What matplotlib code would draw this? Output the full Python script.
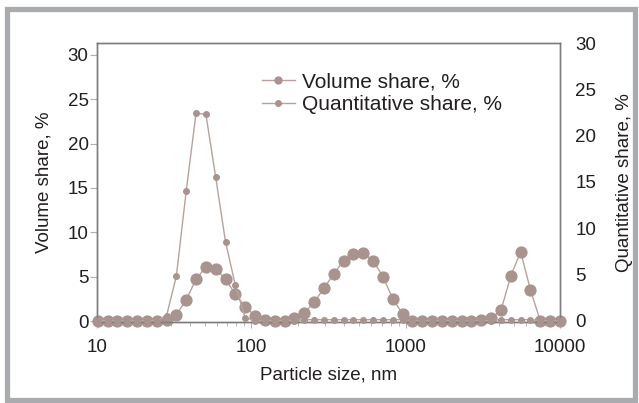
import matplotlib
matplotlib.use("Agg")
import matplotlib.pyplot as plt
from matplotlib.lines import Line2D
from matplotlib.patches import Rectangle

plt.rcParams['font.family'] = ['Liberation Sans', 'DejaVu Sans']

# particle size bins, nm
size_nm = [10.1, 11.7, 13.54, 15.69, 18.17, 21.04, 24.36, 28.21, 32.67, 37.84,
           43.82, 50.75, 58.77, 68.06, 78.82, 91.28, 105.7, 122.4, 141.8, 164.2,
           190.1, 220.2, 255.0, 295.3, 342.0, 396.1, 458.7, 531.2, 615.1, 712.4,
           825.0, 955.4, 1106, 1281, 1484, 1718, 1990, 2305, 2669, 3091,
           3580, 4145, 4801, 5560, 6439, 7456, 8635, 10000]

volume = [0, 0, 0, 0, 0, 0, 0, 0.1, 0.7, 2.4,
          4.7, 6.1, 5.9, 4.7, 3.0, 1.6, 0.6, 0.1, 0, 0,
          0.35, 0.9, 2.1, 3.7, 5.3, 6.8, 7.6, 7.7, 6.8, 5.0,
          2.5, 0.8, 0, 0, 0, 0, 0, 0, 0, 0.1,
          0.3, 1.2, 5.1, 7.8, 3.5, 0, 0, 0]

quantity = [0, 0, 0, 0, 0, 0, 0, 0.5, 4.8, 14.0,
            22.4, 22.3, 15.5, 8.5, 3.8, 0.3, 0, 0, 0, 0,
            0, 0.1, 0.1, 0.1, 0.1, 0.1, 0.1, 0.1, 0.1, 0.1,
            0.1, 0.1, 0, 0, 0, 0, 0, 0, 0, 0,
            0, 0.1, 0.1, 0.1, 0.1, 0, 0, 0]

marker_col = '#a8938e'
line_col = '#b7a29d'
spine_col = '#7d7d7d'
text_col = '#231f20'

W, H = 639, 403
fig = plt.figure(figsize=(W / 100, H / 100), dpi=100)
ax = fig.add_axes([97 / W, 1 - 322 / H, (560 - 97) / W, (322 - 43) / H])

ax.plot(size_nm, volume, '-o', color=line_col, lw=1.0, markersize=7.8,
        markerfacecolor=marker_col, markeredgecolor=marker_col, clip_on=False, zorder=3)
ax.set_xscale('log')
ax.set_xlim(10, 10000)
ax.set_ylim(-0.11, 31.35)
ax.set_yticks([0, 5, 10, 15, 20, 25, 30])
ax.set_xticks([10, 100, 1000, 10000])
ax.set_xticklabels(['10', '100', '1000', '10000'])
ax.yaxis.set_ticks_position('both')
ax.tick_params(axis='y', which='major', direction='out', length=5, width=0.8,
               color='#b0b0b0', labelsize=13.5, labelcolor=text_col, pad=1)
ax.tick_params(axis='x', which='major', direction='out', length=4, width=0.8,
               color='#b0b0b0', labelsize=13.5, labelcolor=text_col, pad=8)
ax.tick_params(axis='x', which='minor', direction='out', length=3, width=0.6,
               color='#b0b0b0')
for s in ax.spines.values():
    s.set_color(spine_col)
    s.set_linewidth(1.0)
ax.set_xlabel('Particle size, nm', fontsize=13.5, color=text_col, labelpad=8)
ax.set_ylabel('Volume share, %', fontsize=13.5, color=text_col, labelpad=11)

ax2 = ax.twinx()
ax2.plot(size_nm, quantity, '-o', color=line_col, lw=1.0, markersize=4.0,
         markerfacecolor=marker_col, markeredgecolor=marker_col, clip_on=False, zorder=3)
ax2.set_ylim(-0.15, 29.9)
ax2.set_yticks([0, 5, 10, 15, 20, 25, 30])
ax2.tick_params(axis='y', length=0, labelsize=13.5, labelcolor=text_col, pad=11)
for s in ax2.spines.values():
    s.set_color(spine_col)
    s.set_linewidth(1.0)
ax2.set_ylabel('Quantitative share, %', fontsize=13.5, color=text_col, labelpad=14)

handles = [
    Line2D([], [], color=line_col, lw=1.0, marker='o', markersize=5,
           markerfacecolor=marker_col, markeredgecolor=marker_col),
    Line2D([], [], color=line_col, lw=1.0, marker='o', markersize=4,
           markerfacecolor=marker_col, markeredgecolor=marker_col),
]
ax2.legend(handles, ['Volume share, %', 'Quantitative share, %'],
           loc='upper left', bbox_to_anchor=(254 / W, 1 - 64 / H),
           bbox_transform=fig.transFigure, frameon=False, fontsize=15,
           handlelength=1.55, handletextpad=0.35, labelspacing=0.18,
           borderaxespad=0, labelcolor=text_col)

fig.patches.append(Rectangle((6.5 / W, 3 / H), (635 - 6.5) / W, (400 - 9) / H,
                             transform=fig.transFigure, fill=False,
                             edgecolor='#a9abae', linewidth=3.8))

fig.savefig('out.png', dpi=100)
